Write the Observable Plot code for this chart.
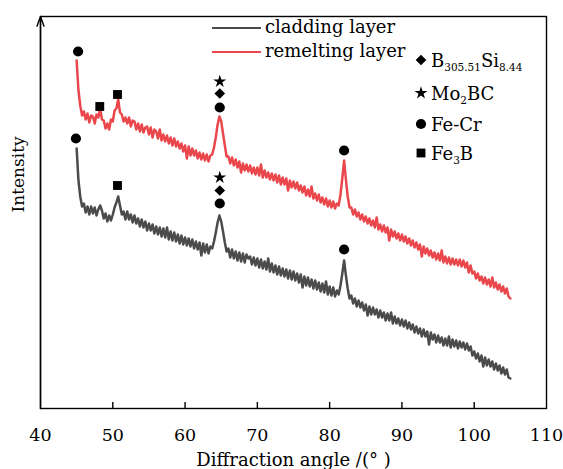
<!DOCTYPE html>
<html><head><meta charset="utf-8">
<script src="https://cdn.jsdelivr.net/npm/d3@7"></script>
<script src="https://cdn.jsdelivr.net/npm/@observablehq/plot@0.6"></script>
<style>
html,body{margin:0;padding:0;background:#fff;}
#chart{width:563px;height:469px;overflow:hidden;}
</style></head><body><div id="chart"></div>
<script>
const FONT = "DejaVu Serif";
const xTicks = [40, 50, 60, 70, 80, 90, 100, 110];
const xDomain = [40, 110];
const yDomain = [0, 392];
const angleStart = 45, angleStep = 0.25;

// remelting layer intensity (a.u.), one value every 0.25 deg from 45 to 105
const remelting = [
348,318,303,293, 297,289,295,286, 293,292,285,294, 291,300,289,288, 280,285,279,289,
287,298,300,309, 296,294,287,291, 285,291,282,288, 287,279,285,277, 284,276,281,282,
274,281,271,279, 277,270,279,268, 274,267,273,265, 271,263,270,262, 267,260,265,257,
263,250,262,253, 260,253,258,250, 256,249,255,248, 254,247,253,254, 261,271,284,292,
287,275,263,252, 252,245,251,243, 249,241,247,236, 245,238,244,237, 243,235,241,234,
241,233,244,231, 238,231,236,229, 235,228,234,226, 233,224,231,224, 230,218,228,221,
227,220,226,218, 223,216,222,213, 219,212,222,210, 215,208,214,206, 211,204,210,202,
208,201,207,200, 205,203,214,230, 248,229,212,201, 201,194,199,192, 196,189,194,187,
192,185,190,183, 188,181,191,179, 184,177,183,176, 181,168,179,172, 177,170,175,168,
174,167,172,165, 170,163,168,161, 166,159,164,152, 162,155,160,153, 158,151,156,149,
155,148,158,146, 152,145,151,144, 150,144,149,143, 149,142,148,141, 146,136,143,135,
137,130,135,128, 132,125,131,124, 129,122,131,121, 126,119,124,117, 122,115,120,112,
110];

// cladding layer intensity (a.u.), same angles
const cladding = [
260,228,212,202, 205,196,202,194, 202,195,201,193, 199,203,198,190, 195,187,193,188,
194,201,206,212, 203,194,197,189, 197,189,194,186, 193,185,190,182, 189,181,187,178,
185,178,184,175, 182,174,181,172, 180,171,181,169, 177,168,176,167, 174,165,173,164,
171,163,170,162, 169,160,167,159, 166,153,165,156, 164,155,162,160, 167,176,186,193,
187,177,166,157, 160,151,159,150, 157,148,156,147, 155,146,154,150, 152,144,151,143,
150,141,149,140, 147,139,150,137, 145,136,143,134, 142,133,140,132, 139,130,138,129,
137,128,135,126, 134,121,132,123, 131,122,129,120, 128,119,126,117, 125,116,127,114,
122,113,121,112, 118,114,123,135, 148,133,120,110, 113,105,110,102, 108,101,106,98,
104,93,102,94, 101,94,99,91, 98,91,96,88, 95,88,96,85, 92,85,90,83,
89,82,88,80, 86,79,84,76, 82,75,80,72, 79,72,77,64, 76,69,74,66,
73,66,71,63, 70,63,72,61, 69,62,68,60, 67,61,66,59, 65,58,62,53,
57,50,55,47, 53,42,51,43, 49,42,47,39, 45,38,43,35, 41,34,39,31,
30];

const seriesNames = ["cladding layer", "remelting layer"];
const seriesColors = ["#4b4b4b", "#ea474c"];

// peak annotations
const markAngles = [45.2, 48.2, 50.65, 64.8, 64.8, 64.8, 82.0, 44.9, 50.65, 64.8, 64.8, 64.8, 82.0];
const markLevels = [357, 302, 314, 301, 315, 327, 258, 270, 223, 205, 218, 231, 159];
const markPhases = ["Fe-Cr","Fe3B","Fe3B","Fe-Cr","B305.51Si8.44","Mo2BC","Fe-Cr",
                    "Fe-Cr","Fe3B","Fe-Cr","B305.51Si8.44","Mo2BC","Fe-Cr"];

const phases = ["B305.51Si8.44", "Mo2BC", "Fe-Cr", "Fe3B"];
const phaseSymbols = ["diamond2", "star", "circle", "square"];
const phaseD3Symbols = [d3.symbolDiamond2, d3.symbolStar, d3.symbolCircle, d3.symbolSquare];
const phaseR = [4.8, 4.1, 5.1, 5.0];
const phaseLabels = [
  [["B",0],["305.51",1],["Si",0],["8.44",1]],
  [["Mo",0],["2",1],["BC",0]],
  [["Fe-Cr",0]],
  [["Fe",0],["3",1],["B",0]]
];

// layout
const W = 563, H = 469, mL = 40, mR = 17, mT = 16, mB = 61;
const tickLen = 6;
const pxPerUnit = (H - mT - mB) / (yDomain[1] - yDomain[0]);

const rows = [];
[cladding, remelting].forEach((arr, s) => arr.forEach((v, i) =>
  rows.push({series: seriesNames[s], angle: angleStart + i * angleStep, value: v})));

const marks = markAngles.map((a, i) => ({angle: a, level: markLevels[i], phase: markPhases[i]}));

const plot = Plot.plot({
  width: W, height: H,
  marginLeft: mL, marginRight: mR, marginTop: mT, marginBottom: mB,
  style: {fontFamily: FONT, fontSize: "17px", color: "#000", background: "#fff"},
  x: {domain: xDomain, axis: null},
  y: {domain: yDomain, axis: null},
  color: {domain: seriesNames, range: seriesColors},
  marks: [
    Plot.frame({stroke: "#000", strokeWidth: 1.4}),
    Plot.axisX({ticks: xTicks, tickSize: 0, tickPadding: 20, fontSize: 17.5,
      tickFormat: d => d, label: null}),
    Plot.text(["Diffraction angle /(° )"], {text: d => d, frameAnchor: "bottom", dy: 57, fontSize: 18}),
    Plot.ruleX(xTicks.slice(1, -1), {x: d => d, y1: () => yDomain[0],
      y2: () => yDomain[0] + tickLen / pxPerUnit, stroke: "#000", strokeWidth: 1.4}),
    Plot.arrow([0], {x1: () => xDomain[0], x2: () => xDomain[0], y1: () => yDomain[0], y2: () => yDomain[1],
      headLength: 11, headAngle: 40, stroke: "#000", strokeWidth: 1.4}),
    Plot.text(["Intensity"], {text: d => d, frameAnchor: "left", dx: -22, rotate: -90, fontSize: 17}),
    Plot.line(rows, {x: "angle", y: "value", z: "series", stroke: "series", strokeWidth: 2.5}),
    ...phases.map((p, k) => Plot.dot(marks.filter(m => m.phase === p), {
      x: "angle", y: "level", symbol: () => phaseSymbols[k], r: phaseR[k], fill: "#000", stroke: "none"}))
  ]
});

document.getElementById("chart").appendChild(plot);

// legend (drawn in pixel space on top of the plot)
const svg = d3.select(plot);
const lg = svg.append("g").attr("font-family", FONT).attr("fill", "#000").attr("text-anchor", "start");
const lineLegY = [28, 52];
seriesNames.forEach((name, i) => {
  const y = lineLegY[i];
  lg.append("line").attr("x1", 212).attr("x2", 261).attr("y1", y).attr("y2", y)
    .attr("stroke", seriesColors[i]).attr("stroke-width", 1.8);
  lg.append("text").attr("x", 265).attr("y", y + 5).attr("font-size", 18).text(name);
});
const phaseLegY = [60, 93, 124, 153];
phases.forEach((p, k) => {
  const y = phaseLegY[k];
  lg.append("path").attr("transform", `translate(421,${y})`)
    .attr("d", d3.symbol().type(phaseD3Symbols[k]).size(Math.PI * phaseR[k] * phaseR[k])());
  const t = lg.append("text").attr("x", 431).attr("y", y + 7).attr("font-size", 18);
  let shifted = false;
  phaseLabels[k].forEach(([s, sub]) => {
    const ts = t.append("tspan").text(s);
    if (sub) { ts.attr("font-size", 10.5).attr("dy", shifted ? 0 : 4); shifted = true; }
    else { ts.attr("dy", shifted ? -4 : 0); shifted = false; }
  });
});
</script></body></html>
